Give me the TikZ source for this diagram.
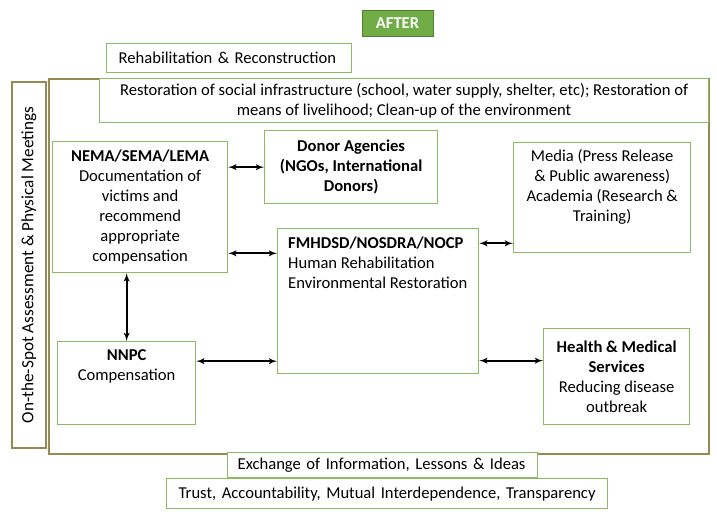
\documentclass[tikz,border=0pt]{standalone}
\usepackage{fontspec}
\setmainfont{Carlito}
\usepackage{xcolor}
\usetikzlibrary{arrows,positioning}

\definecolor{boxgreen}{RGB}{137,188,98}
\definecolor{framebrown}{RGB}{148,138,84}
\definecolor{aftergreen}{RGB}{112,173,71}
\definecolor{afterline}{RGB}{80,126,50}

\tikzset{
  gbox/.style={draw=boxgreen, line width=1.3pt, anchor=north west, inner sep=0pt},
  obox/.style={draw=framebrown, line width=2pt, inner sep=0pt},
  link/.style={<->, >=latex', line width=1.8pt},
  every node/.style={font=\fontsize{16.6}{20}\selectfont}
}

\begin{document}
\begin{tikzpicture}[x=1pt,y=-1pt]
\useasboundingbox (0,0) rectangle (717,514);
% outer frame and side bar
\node[obox, anchor=north west, minimum width=660pt, minimum height=375pt] (frame) at (48,78) {};
\node[obox, rotate=90, minimum width=366pt, minimum height=34pt, font=\fontsize{17.2}{20}\selectfont] (side) at (29,265) {On-the-Spot Assessment \& Physical Meetings};
% headings
\node[draw=afterline, fill=aftergreen, line width=1pt, text=white, minimum width=71pt, minimum height=26pt, inner sep=0pt] (after) at (397.5,23) {\textbf{AFTER}};
\node[gbox, fill=white, text width=221pt, inner xsep=12pt, minimum height=29pt, align=left] (rehab) at (106,43) {Rehabilitation \& Reconstruction};
\node[gbox, fill=white, minimum width=609pt, minimum height=44pt, align=center] (restore) at (99,78) {Restoration of social infrastructure (school, water supply, shelter, etc); Restoration of\\means of livelihood; Clean-up of the environment};
% actors
\node[gbox, minimum width=175pt, minimum height=131pt, align=center] (nema) at (52,141) {\textbf{NEMA/SEMA/LEMA}\\Documentation of\\victims and\\recommend\\appropriate\\compensation};
\node[gbox, minimum width=173pt, minimum height=73pt, align=center] (donor) at (264,130) {\textbf{Donor Agencies}\\\textbf{(NGOs, International}\\\textbf{Donors)}};
\node[gbox, minimum width=201pt, minimum height=145pt] (fmh) at (277,228) {};
\node[anchor=north west, align=left, inner sep=0pt] (fmhtext) at ([xshift=11pt,yshift=-9pt]fmh.north west) {\textbf{FMHDSD/NOSDRA/NOCP}\\Human Rehabilitation\\Environmental Restoration};
\node[gbox, minimum width=177pt, minimum height=110pt] (media) at (513,142) {};
\node[below=7pt of media.north, align=center, inner sep=0pt] (mediatext) {Media (Press Release\\\& Public awareness)\\Academia (Research \&\\Training)};
\node[gbox, minimum width=138pt, minimum height=83pt] (nnpc) at (57,341) {};
\node[below=8pt of nnpc.north, align=center, inner sep=0pt] (nnpctext) {\textbf{NNPC}\\Compensation};
\node[gbox, minimum width=146pt, minimum height=96pt, align=center] (health) at (543,328) {\textbf{Health \& Medical}\\\textbf{Services}\\Reducing disease\\outbreak};
% bottom notes
\node[gbox, fill=white, text width=290pt, inner xsep=10pt, minimum height=25pt, align=left] (exchange) at (227,452) {Exchange of Information, Lessons \& Ideas};
\node[gbox, fill=white, text width=417pt, inner xsep=12pt, minimum height=30pt, align=left] (trust) at (166,478) {Trust, Accountability, Mutual Interdependence, Transparency};
% links
\draw[link] (nema.east |- donor.west) -- (donor.west);
\draw[link] ([yshift=20pt]nema.south east) -- ([yshift=20pt]nema.south east -| fmh.west);
\draw[link] (nnpc.north |- nema.south) -- (nnpc.north);
\draw[link] ([yshift=22pt]nnpc.east) -- ([yshift=22pt]nnpc.east -| fmh.west);
\draw[link] ([yshift=16pt]health.west -| fmh.east) -- ([yshift=16pt]health.west);
\draw[link] ([yshift=10pt]media.south west -| fmh.east) -- ([yshift=10pt]media.south west);
\end{tikzpicture}
\end{document}
